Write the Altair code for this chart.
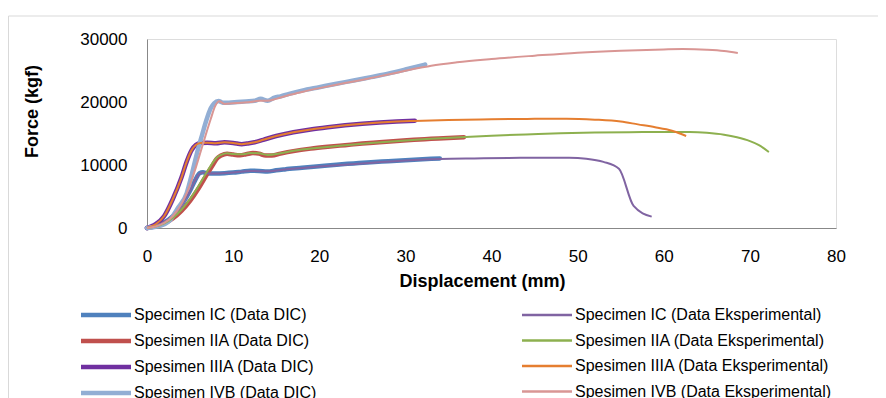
import altair as alt
import pandas as pd

# ---------------- data ----------------
dic_names = [
    "Specimen IC (Data DIC)",
    "Spesimen IIA (Data DIC)",
    "Spesimen IIIA (Data DIC)",
    "Spesimen IVB (Data DIC)",
]
exp_names = [
    "Specimen IC (Data Eksperimental)",
    "Spesimen IIA (Data Eksperimental)",
    "Spesimen IIIA (Data Eksperimental)",
    "Spesimen IVB (Data Eksperimental)",
]
dic_colors = ["#4F81BD", "#C0504D", "#7030A0", "#92AED4"]
exp_colors = ["#8064A2", "#8DB04F", "#E57E30", "#D99694"]

# Specimen IC (DIC)
ic_dic_x = [0, 0.5, 1, 2, 3, 4, 5, 5.6, 6.1, 6.5, 7, 8, 9, 10, 11, 12, 13, 14, 15, 16, 18, 20, 22, 24, 26, 28, 30, 32, 34]
ic_dic_y = [0, 150, 350, 900, 1900, 3600, 5900, 7600, 8700, 8850, 8650, 8650, 8700, 8800, 8950, 9100, 9050, 8950, 9150, 9300, 9550, 9800, 10050, 10250, 10450, 10600, 10750, 10900, 11050]
# Spesimen IIA (DIC)
iia_dic_x = [0, 1, 2, 3, 4, 5, 6, 7, 7.6, 8.1, 8.6, 9.3, 10, 10.8, 11.5, 12.3, 13, 13.8, 14.5, 15.5, 17, 19, 21, 23, 25, 27, 29, 31, 33, 35, 36.8]
iia_dic_y = [0, 250, 700, 1500, 2700, 4300, 6300, 8600, 9900, 11000, 11500, 11800, 11650, 11550, 11700, 11900, 11800, 11500, 11500, 11800, 12200, 12600, 12900, 13150, 13400, 13600, 13800, 14000, 14150, 14300, 14400]
# Spesimen IIIA (DIC)
iiia_dic_x = [0, 0.5, 1, 2, 3, 4, 4.6, 5.2, 5.7, 6.2, 7, 8, 9, 10, 11, 11.6, 12.5, 13.5, 15, 17, 19, 21, 23, 25, 27, 29, 31.1]
iiia_dic_y = [0, 250, 600, 1900, 4600, 8000, 10500, 12400, 13200, 13500, 13550, 13450, 13600, 13500, 13300, 13400, 13600, 14000, 14600, 15200, 15650, 16000, 16300, 16550, 16750, 16900, 17030]
# Spesimen IVB (DIC)
ivb_dic_x = [0, 1, 2, 2.7, 3.5, 4.6, 5.2, 5.8, 6.4, 6.9, 7.4, 7.8, 8.3, 8.8, 9.5, 10.5, 11.5, 12.5, 13.2, 14, 14.8, 15.5, 16.5, 18, 20, 22, 24, 26, 28, 30, 32.3]
ivb_dic_y = [0, 200, 600, 1270, 3000, 5500, 8500, 11860, 14800, 17140, 19000, 19800, 20160, 19900, 19900, 20000, 20100, 20200, 20500, 20200, 20700, 20900, 21300, 21800, 22350, 22900, 23400, 23950, 24500, 25150, 25950]

# Specimen IC (Eksperimental)
ic_exp_x = [0, 1, 2, 3, 4, 5, 5.6, 6.1, 6.6, 7, 8, 10, 12, 14, 16, 20, 25, 30, 34, 38, 42, 46, 49, 51, 53, 54.8, 56.5, 58.6]
ic_exp_y = [0, 350, 900, 1900, 3600, 5900, 7600, 8600, 8800, 8650, 8650, 8800, 9050, 9000, 9300, 9750, 10250, 10700, 10950, 11050, 11120, 11160, 11150, 11000, 10500, 9400, 3500, 1800]
# Spesimen IIA (Eksperimental)
iia_exp_x = [0, 1, 2, 3, 4, 5, 6, 7, 7.6, 8.1, 8.6, 9.3, 10, 11, 12, 13, 14, 15.5, 17, 20, 23, 26, 30, 33, 37, 40, 44, 48, 52, 56, 60, 63, 65, 67, 68.5, 70, 71, 72.2]
iia_exp_y = [0, 250, 750, 1600, 2900, 4600, 6700, 9000, 10300, 11200, 11600, 11850, 11750, 11700, 11900, 11850, 11600, 11850, 12250, 12750, 13150, 13500, 13900, 14150, 14450, 14650, 14850, 15050, 15150, 15200, 15250, 15230, 15100, 14800, 14400, 13800, 13200, 12050]
# Spesimen IIIA (Eksperimental)
iiia_exp_x = [0, 0.5, 1, 2, 3, 4, 4.6, 5.2, 5.7, 6.2, 7, 8, 9, 10, 11, 11.6, 12.5, 13.5, 15, 17, 19, 21, 23, 25, 27, 29, 31, 35, 40, 45, 48.7, 52, 55, 57, 59, 60.3, 61.5, 62.6]
iiia_exp_y = [0, 250, 600, 1900, 4600, 8000, 10500, 12400, 13200, 13500, 13550, 13450, 13600, 13500, 13300, 13400, 13600, 14000, 14600, 15200, 15650, 16000, 16300, 16550, 16750, 16900, 17000, 17150, 17250, 17330, 17350, 17200, 16900, 16450, 16000, 15660, 15200, 14600]
# Spesimen IVB (Eksperimental)
ivb_exp_x = [0, 1, 2, 3, 4, 5, 5.6, 6.2, 6.8, 7.4, 7.9, 8.4, 9, 10, 11, 12, 13, 14, 15, 16.5, 18, 20, 22, 24, 26, 28, 30, 32, 33, 36, 40, 45, 50, 55, 60, 62.2, 65, 67, 68.6]
ivb_exp_y = [0, 250, 800, 1900, 3800, 6900, 9300, 12000, 14700, 17300, 19300, 20100, 19700, 19800, 19900, 20000, 20200, 20200, 20500, 21100, 21600, 22200, 22750, 23250, 23800, 24350, 24950, 25500, 25750, 26300, 26820, 27350, 27830, 28150, 28350, 28400, 28300, 28100, 27770]

x_ticks = [0, 10, 20, 30, 40, 50, 60, 70, 80]
y_ticks = [0, 5000, 10000, 15000, 20000, 25000, 30000]

# ---------------- tables ----------------
def build(names, xs, ys):
    rows = []
    for n, xx, yy in zip(names, xs, ys):
        for i, (a, b) in enumerate(zip(xx, yy)):
            rows.append({"series": n, "x": a, "y": b, "i": i})
    return pd.DataFrame(rows)

dic_df = build(dic_names, [ic_dic_x, iia_dic_x, iiia_dic_x, ivb_dic_x],
               [ic_dic_y, iia_dic_y, iiia_dic_y, ivb_dic_y])
exp_df = build(exp_names, [ic_exp_x, iia_exp_x, iiia_exp_x, ivb_exp_x],
               [ic_exp_y, iia_exp_y, iiia_exp_y, ivb_exp_y])

FONT = "Liberation Sans"
W, H = 689, 189

x_enc = alt.X("x:Q", scale=alt.Scale(domain=[0, 80], nice=False),
              axis=alt.Axis(values=x_ticks, title="Displacement (mm)", grid=False, ticks=False,
                            labelFlush=False, labelPadding=20, labelFontSize=17, titleFontSize=18,
                            titleX=335, titleY=53, titleBaseline="middle"))
y_enc = alt.Y("y:Q", scale=alt.Scale(domain=[0, 30000], nice=False),
              axis=alt.Axis(values=y_ticks, format="d", title="Force (kgf)", grid=False, ticks=False,
                            labelFlush=False, labelPadding=20, labelFontSize=17, titleFontSize=18,
                            titleX=-115, titleY=72, titleAngle=270,
                            titleAlign="center", titleBaseline="middle"))

# long horizontal stroke symbol, kept short in height so rows stay compact
LINE_SYMBOL = "M-5,0H5"
legend_common = dict(orient="none", symbolType=LINE_SYMBOL, symbolSize=100, labelFontSize=16,
                     labelFont=FONT, labelColor="black", labelLimit=400,
                     title=None, labelOffset=20)

dic = alt.Chart(dic_df).mark_line(strokeWidth=4.5, interpolate="monotone", strokeCap="round").encode(
    x=x_enc, y=y_enc,
    color=alt.Color("series:N", scale=alt.Scale(domain=dic_names, range=dic_colors),
                    legend=alt.Legend(legendX=-49, legendY=268, rowPadding=8,
                                      symbolStrokeWidth=4.5, **legend_common)),
    order="i:Q",
)

exp = alt.Chart(exp_df).mark_line(strokeWidth=2, interpolate="monotone").encode(
    x="x:Q", y="y:Q",
    stroke=alt.Stroke("series:N", scale=alt.Scale(domain=exp_names, range=exp_colors),
                      legend=alt.Legend(legendX=392, legendY=268, rowPadding=9.5,
                                        symbolStrokeWidth=2.5, **legend_common)),
    order="i:Q",
)

border = alt.Chart(pd.DataFrame({"a": [0]})).mark_rect(fill="transparent", stroke="#D9D9D9", strokeWidth=1).encode(
    x=alt.value(-138.5), x2=alt.value(W + 200), y=alt.value(-23), y2=alt.value(H + 400)
)

chart = alt.layer(border, dic, exp).properties(
    width=W, height=H,
    autosize=alt.AutoSizeParams(type="none"),
    padding={"left": 139, "top": 31, "right": 42, "bottom": 170},
).configure_view(stroke=None).configure_axis(
    domainColor="#BFBFBF", domainWidth=2, labelFont=FONT, titleFont=FONT,
    labelColor="black", titleColor="black", titleFontWeight="bold",
).configure(background="white")

chart.save("out.html", embed_options={"renderer": "svg", "actions": False})
